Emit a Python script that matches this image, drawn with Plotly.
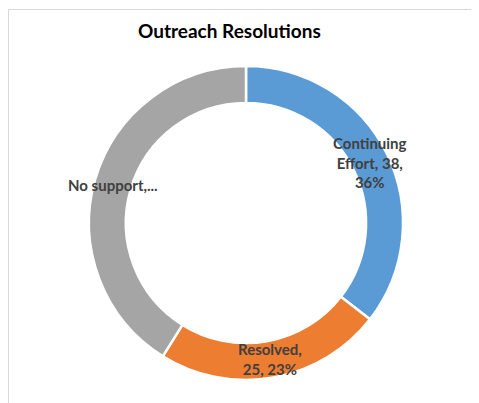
import math
import plotly.graph_objects as go

categories = ["Continuing Effort", "Resolved", "No support"]
values = [38, 25, 44]
label_texts = ["Continuing<br>Effort, {v},<br>{p}%", "Resolved,<br>{v}, {p}%", "No support,..."]
colors = ["#5B9BD5", "#ED7D31", "#A5A5A5"]

# page body has an 8px margin, so the figure is sized to the visible area
W, H = 471, 395
L, R, T, B = 5, 0, 58, 23
pw, ph = W - L - R, H - T - B
hole = 0.765

fig = go.Figure(go.Pie(
    labels=categories, values=values, hole=hole, sort=False,
    direction="clockwise", rotation=0,
    marker=dict(colors=colors, line=dict(color="white", width=2.5)),
    textinfo="none", hoverinfo="label+value+percent", showlegend=False,
))

total = sum(values)
radius = min(pw, ph) / 2
rmid = radius * (1 + hole) / 2
cum = 0
annotations = []
for cat, v, tmpl in zip(categories, values, label_texts):
    mid = (cum + v / 2) / total * 2 * math.pi
    cum += v
    dx = rmid * math.sin(mid)
    dy = rmid * math.cos(mid)
    pct = round(v / total * 100)
    annotations.append(dict(
        x=0.5 + dx / pw, y=0.5 + dy / ph, xref="paper", yref="paper",
        text="<b>" + tmpl.format(v=v, p=pct) + "</b>", showarrow=False,
        font=dict(family="Lato", size=15, color="#404040"),
        xanchor="center", yanchor="middle", align="center",
    ))

annotations.append(dict(
    x=(221 - L) / pw, y=(H - B - 23) / ph, xref="paper", yref="paper",
    text="<b>Outreach Resolutions</b>", showarrow=False,
    font=dict(family="Lato", size=19, color="#000000"),
    xanchor="center", yanchor="middle",
))

fig.update_layout(
    width=W, height=H, margin=dict(l=L, r=R, t=T, b=B),
    paper_bgcolor="white", plot_bgcolor="white",
    annotations=annotations,
    shapes=[dict(type="rect", xref="paper", yref="paper",
                 x0=(0.5 - L) / pw, x1=(W + 20 - L) / pw,
                 y0=(H - B - (H + 20)) / ph, y1=(H - B - 1.5) / ph,
                 line=dict(color="#D9D9D9", width=1), fillcolor="rgba(0,0,0,0)", layer="below")],
)

fig.write_html("out.html")
